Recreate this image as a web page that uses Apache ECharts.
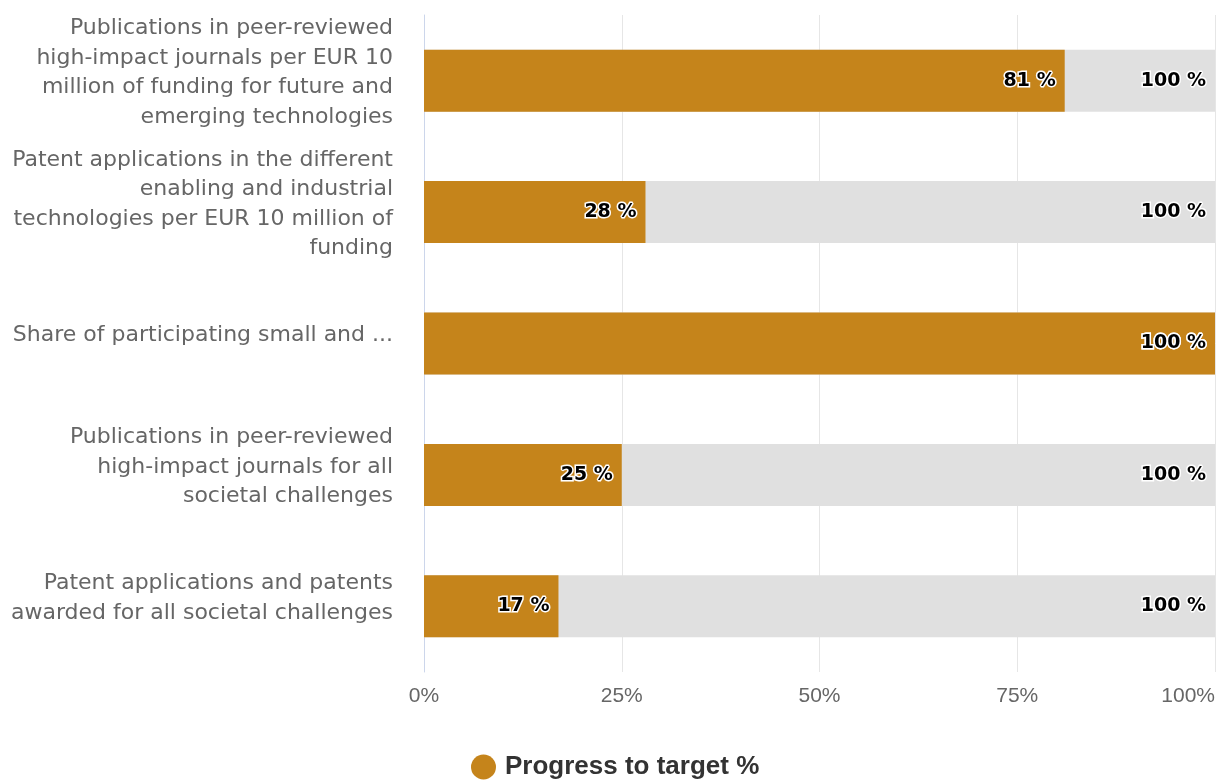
<!DOCTYPE html>
<html>
<head>
<meta charset="utf-8">
<script src="https://cdn.jsdelivr.net/npm/echarts@6/dist/echarts.min.js"></script>
<style>
  html, body { margin: 0; padding: 0; background: #fff; }
  #chart { width: 1225px; height: 780px; }
</style>
</head>
<body>
<div id="chart"></div>
<script>
// Indicator names, already broken into display lines
const categories = [
  'Publications in peer-reviewed\nhigh-impact journals per EUR 10\nmillion of funding for future and\nemerging technologies',
  'Patent applications in the different\nenabling and industrial\ntechnologies per EUR 10 million of\nfunding',
  'Share of participating small and ...',
  'Publications in peer-reviewed\nhigh-impact journals for all\nsocietal challenges',
  'Patent applications and patents\nawarded for all societal challenges'
];
// Progress towards each target, in percent
const progress = [81, 28, 100, 25, 17];
// Target level for every indicator
const target = [100, 100, 100, 100, 100];
const xTicks = [0, 25, 50, 75, 100];

const chart = echarts.init(document.getElementById('chart'));

const labelStyle = {
  show: true,
  position: 'insideRight',
  distance: 9,
  formatter: p => p.value + ' %',
  color: '#000',
  fontFamily: 'DejaVu Sans',
  fontWeight: 'bold',
  fontSize: 19,
  textBorderColor: '#fff',
  textBorderWidth: 3
};

chart.setOption({
  animation: false,
  grid: { left: 424, right: 10, top: 15, bottom: 108, outerBoundsMode: 'none', containLabel: false },
  legend: {
    data: ['Progress to target %'],
    top: 749,
    left: 466,
    icon: 'circle',
    itemWidth: 25,
    itemHeight: 25,
    itemGap: 17,
    textStyle: { fontSize: 26, fontWeight: 'bold', color: '#333', fontFamily: 'Liberation Sans, sans-serif', padding: [0, 0, 0, 4] }
  },
  xAxis: {
    type: 'value',
    min: 0,
    max: 100,
    interval: 25,
    axisLine: { show: false },
    axisTick: { show: false },
    splitLine: { lineStyle: { color: '#e6e6e6', width: 1 } },
    axisLabel: {
      formatter: v => xTicks.includes(v) ? v + '%' : '',
      color: '#666',
      fontSize: 21,
      margin: 14,
      alignMaxLabel: 'right',
      fontFamily: 'Liberation Sans, sans-serif'
    }
  },
  yAxis: {
    type: 'category',
    inverse: true,
    data: categories,
    axisLine: { show: true, lineStyle: { color: '#ccd6eb', width: 1 } },
    axisTick: { show: false },
    axisLabel: {
      interval: 0,
      color: '#666',
      fontSize: 22,
      lineHeight: 29.5,
      margin: 31,
      align: 'right',
      fontFamily: 'DejaVu Sans',
      // an empty short line under each name lifts the text block a little
      formatter: v => v + '\n{gap| }',
      rich: { gap: { lineHeight: 16, fontSize: 4 } }
    }
  },
  series: [
    {
      name: 'Target',
      type: 'bar',
      data: target,
      barWidth: 62,
      barGap: '-100%',
      itemStyle: { color: '#e0e0e0' },
      label: labelStyle,
      silent: true
    },
    {
      name: 'Progress to target %',
      type: 'bar',
      data: progress,
      barWidth: 62,
      itemStyle: { color: '#c5841b' },
      label: labelStyle
    }
  ]
});
</script>
</body>
</html>
